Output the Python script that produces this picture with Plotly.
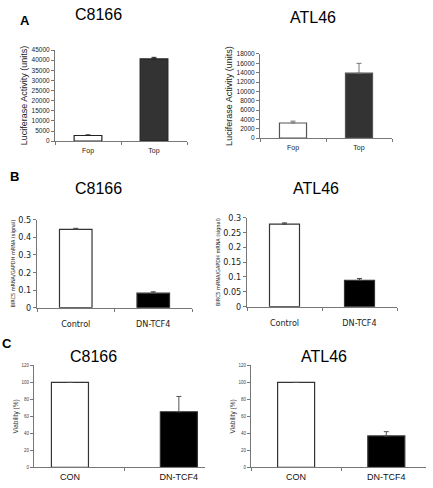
import plotly.graph_objects as go

W, H = 433, 488

# ---- data ----
a_cats = ["Fop", "Top"]
a_c8166 = [2800, 40600]
a_c8166_err = [300, 800]
a_atl46 = [3250, 13900]
a_atl46_err = [400, 2100]

b_cats = ["Control", "DN-TCF4"]
b_c8166 = [0.444, 0.082]
b_c8166_err = [0.006, 0.008]
b_atl46 = [0.278, 0.089]
b_atl46_err = [0.004, 0.006]

c_cats = ["CON", "DN-TCF4"]
c_c8166 = [100, 65.5]
c_c8166_err = [0, 18]
c_atl46 = [100, 37]
c_atl46_err = [0, 5]

a_l_ticks = list(range(0, 45001, 5000))
a_r_ticks = list(range(0, 18001, 2000))
b_l_ticks = [0, 0.1, 0.2, 0.3, 0.4, 0.5]
b_l_text = ["0", "0.1", "0.2", "0.3", "0.4", "0.5"]
b_r_ticks = [0, 0.05, 0.1, 0.15, 0.2, 0.25, 0.3]
b_r_text = ["0", "0.05", "0.1", "0.15", "0.2", "0.25", "0.3"]
c_ticks = [0, 20, 40, 60, 80, 100, 120]

ARIAL = "Liberation Sans, Arial, sans-serif"
NARROW = "Liberation Sans Narrow, Arial Narrow, DejaVu Sans Condensed, sans-serif"

def xd(a, b):
    return [a / W, b / W]

def yd(top, bottom):
    return [1 - bottom / H, 1 - top / H]

fig = go.Figure()

panels = [
    dict(cats=a_cats, vals=a_c8166, errs=a_c8166_err, colors=["white", "#333333"], lc="#222222", ec="#222222",
         w=0.42, xdom=xd(55, 187), ydom=yd(46, 139), yr=[0, 45000], tv=a_l_ticks, tt=[str(t) for t in a_l_ticks],
         xr=[-0.5, 1.5]),
    dict(cats=a_cats, vals=a_atl46, errs=a_atl46_err, colors=["white", "#333333"], lc="#555555", ec="#777777",
         w=0.41, xdom=xd(260, 392), ydom=yd(50, 136), yr=[0, 18000], tv=a_r_ticks, tt=[str(t) for t in a_r_ticks],
         xr=[-0.5, 1.5]),
    dict(cats=b_cats, vals=b_c8166, errs=b_c8166_err, colors=["white", "black"], lc="#333333", ec="#444444",
         w=0.42, xdom=xd(37, 192), ydom=yd(219, 309), yr=[0, 0.5], tv=b_l_ticks, tt=b_l_text,
         xr=[-0.5, 1.5]),
    dict(cats=b_cats, vals=b_atl46, errs=b_atl46_err, colors=["white", "black"], lc="#333333", ec="#444444",
         w=0.40, xdom=xd(247, 397), ydom=yd(217, 308), yr=[0, 0.3], tv=b_r_ticks, tt=b_r_text,
         xr=[-0.5, 1.5]),
    dict(cats=c_cats, vals=c_c8166, errs=c_c8166_err, colors=["white", "black"], lc="#333333", ec="#555555",
         w=0.34, xdom=xd(34, 205), ydom=yd(368, 472), yr=[0, 120], tv=c_ticks, tt=[str(t) for t in c_ticks],
         xr=[-0.33, 1.24]),
    dict(cats=c_cats, vals=c_atl46, errs=c_atl46_err, colors=["white", "black"], lc="#333333", ec="#555555",
         w=0.41, xdom=xd(251, 426), ydom=yd(368, 472), yr=[0, 120], tv=c_ticks, tt=[str(t) for t in c_ticks],
         xr=[-0.5, 1.44]),
]

ytitles = ["Luciferase Activity (units)", "Luciferase Activity (units)",
           "BIRC5 mRNA/GAPDH mRNA (signal)", "BIRC5 mRNA/GAPDH mRNA (signal)",
           "Viability (%)", "Viability (%)"]

layout = {}
for i, p in enumerate(panels):
    n = i + 1
    xa = "x" if n == 1 else f"x{n}"
    ya = "y" if n == 1 else f"y{n}"
    fig.add_trace(go.Bar(
        x=p["cats"], y=p["vals"], width=p["w"],
        marker=dict(color=p["colors"], line=dict(color=p["lc"], width=1.2)),
        error_y=dict(type="data", array=p["errs"], arrayminus=[0] * len(p["errs"]), symmetric=False,
                     color=p["ec"], thickness=1, width=2.5),
        xaxis=xa, yaxis=ya, showlegend=False, hoverinfo="skip",
    ))
    row = i // 2
    if row == 0:
        tfont = dict(family=ARIAL, size=6.5, color="#222")
        xfont = dict(family=ARIAL, size=7, color="#222")
        ytf = dict(family=ARIAL, size=9, color="#222")
        xstand = 2
    elif row == 1:
        tfont = dict(family=NARROW, size=9, color="#222")
        xfont = dict(family=NARROW, size=9, color="#222")
        ytf = dict(family=NARROW, size=5.5, color="#222")
        xstand = 8
    else:
        tfont = dict(family=ARIAL, size=4.5, color="#444")
        xfont = dict(family=ARIAL, size=9, color="#111")
        ytf = dict(family=ARIAL, size=6.5, color="#333")
        xstand = 1
    layout["xaxis" if n == 1 else f"xaxis{n}"] = dict(
        domain=p["xdom"], anchor=ya, range=p["xr"], type="category",
        showline=True, linecolor="#777", linewidth=1, ticks="outside", tickson="boundaries",
        ticklen=3, tickcolor="#777", showgrid=False, zeroline=False, tickfont=xfont,
        ticklabelstandoff=xstand, fixedrange=True,
    )
    layout["yaxis" if n == 1 else f"yaxis{n}"] = dict(
        domain=p["ydom"], anchor=xa, range=p["yr"], tickvals=p["tv"], ticktext=p["tt"],
        showline=True, linecolor="#777", linewidth=1, ticks="outside", ticklen=3, tickcolor="#777",
        showgrid=False, zeroline=False, tickfont=tfont,
        title=dict(text=ytitles[i], font=ytf, standoff=2), fixedrange=True,
    )

titles = [("C8166", 98, 10), ("ATL46", 313, 13), ("C8166", 98, 187), ("ATL46", 316, 187),
          ("C8166", 93, 359), ("ATL46", 324, 359)]
ann = []
for t, x, y in titles:
    ann.append(dict(text=t, x=x / W, y=1 - y / H, xref="paper", yref="paper", showarrow=False,
                    xanchor="center", yanchor="middle", font=dict(family=ARIAL, size=16, color="black")))
for t, x, y in [("A", 25, 16), ("B", 14, 175), ("C", 7, 346)]:
    ann.append(dict(text=f"<b>{t}</b>", x=x / W, y=1 - y / H, xref="paper", yref="paper", showarrow=False,
                    xanchor="center", yanchor="middle", font=dict(family=ARIAL, size=13, color="black")))

fig.update_layout(
    width=W, height=H, margin=dict(l=0, r=0, t=0, b=0),
    paper_bgcolor="white", plot_bgcolor="white",
    annotations=ann, bargap=0.5,
    **layout,
)

fig.write_html("out.html", config={"displayModeBar": False},
               post_script="document.body.style.margin='0';document.body.style.overflow='hidden';")
